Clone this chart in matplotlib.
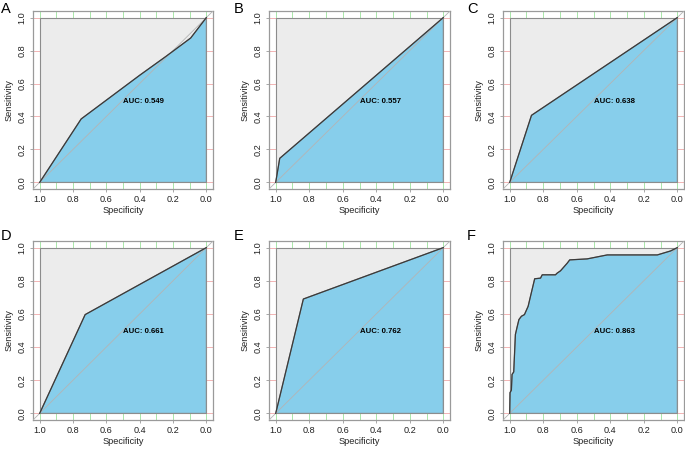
import numpy as np
import matplotlib
matplotlib.use("Agg")
import matplotlib.pyplot as plt

plt.rcParams['font.family'] = ['Liberation Sans', 'DejaVu Sans']

# ROC curves: (specificity, sensitivity)
panel_letters = ["A", "B", "C", "D", "E", "F"]
auc_values = [0.549, 0.557, 0.638, 0.661, 0.762, 0.863]

spec_a = [1.0, 0.751, 0.40, 0.243, 0.094, 0.0]
sens_a = [0.0, 0.385, 0.65, 0.764, 0.876, 1.0]

spec_b = [1.0, 0.976, 0.0]
sens_b = [0.0, 0.146, 1.0]

spec_c = [1.0, 0.870, 0.0]
sens_c = [0.0, 0.407, 1.0]

spec_d = [1.0, 0.727, 0.0]
sens_d = [0.0, 0.596, 1.0]

spec_e = [1.0, 0.835, 0.0]
sens_e = [0.0, 0.69, 1.0]

spec_f = [1.0, 0.998, 0.99, 0.986, 0.976, 0.966, 0.956, 0.945, 0.93, 0.912,
          0.89, 0.876, 0.851, 0.816, 0.806, 0.727, 0.717, 0.697, 0.657, 0.642,
          0.538, 0.418, 0.119, 0.04, 0.0]
sens_f = [0.0, 0.125, 0.14, 0.235, 0.25, 0.476, 0.52, 0.566, 0.586, 0.596,
          0.646, 0.706, 0.812, 0.816, 0.836, 0.836, 0.846, 0.86, 0.906, 0.926,
          0.932, 0.956, 0.956, 0.98, 1.0]

curves = [(spec_a, sens_a), (spec_b, sens_b), (spec_c, sens_c),
          (spec_d, sens_d), (spec_e, sens_e), (spec_f, sens_f)]

W, H = 685, 451
fig = plt.figure(figsize=(W / 100, H / 100), dpi=100)

# axes boxes in pixels: left, right, top, bottom
col_x = [(33, 213), (269, 450), (503, 684)]
row_y = [(11, 189), (241, 420)]
letter_x = [1, 234, 467]
letter_y = [2, 229]

box_col = "#9a9a9a"
for i, (spec, sens) in enumerate(curves):
    r, c = divmod(i, 3)
    x0, x1 = col_x[c]
    y0, y1 = row_y[r]
    ax = fig.add_axes([x0 / W, 1 - y1 / H, (x1 - x0) / W, (y1 - y0) / H])
    ax.set_xlim(1.04, -0.04)
    ax.set_ylim(-0.04, 1.04)

    # grid behind everything
    for g in np.arange(0, 1.01, 0.1):
        ax.axvline(g, color="#9be39b", lw=0.6, zorder=0)
    for g in np.arange(0, 1.01, 0.2):
        ax.axhline(g, color="#f0a8a8", lw=0.6, zorder=0)

    # max-AUC polygon
    ax.fill([1, 1, 0, 0], [0, 1, 1, 0], facecolor="#ececec",
            edgecolor="#8c8c8c", lw=0.8, zorder=1)
    # AUC polygon
    ax.fill(list(spec) + [0, 1], list(sens) + [0, 0], facecolor="#87ceeb",
            edgecolor="#8c8c8c", lw=0.8, zorder=2)
    # diagonal
    ax.plot([1.04, -0.04], [-0.04, 1.04], color="#b4b4b4", lw=0.6, zorder=3)
    # ROC curve
    ax.plot(spec, sens, color="#3a3a3a", lw=0.9, zorder=4)

    ax.text(0.5, 0.515, "AUC: %.3f" % auc_values[i], ha="left", va="top",
            fontsize=5.6, fontweight="bold", zorder=5)

    ticks = [1.0, 0.8, 0.6, 0.4, 0.2, 0.0]
    ax.set_xticks(ticks)
    ax.set_xticklabels(["%.1f" % t for t in ticks])
    ax.set_yticks(ticks[::-1])
    ax.set_yticklabels(["%.1f" % t for t in ticks[::-1]], rotation=90, va="center")
    ax.tick_params(labelsize=6.6, length=2.5, width=0.6, color=box_col, pad=2,
                   labelcolor="#222222")
    for s in ax.spines.values():
        s.set_color(box_col)
        s.set_linewidth(0.9)
    ax.set_xlabel("Specificity", fontsize=6.6, labelpad=1, color="#222222")
    ax.set_ylabel("Sensitivity", fontsize=6.6, labelpad=3, color="#222222")

    fig.text(letter_x[c] / W, 1 - letter_y[r] / H, panel_letters[i],
             fontsize=10.5, ha="left", va="top")

fig.savefig("out.png", dpi=100)
